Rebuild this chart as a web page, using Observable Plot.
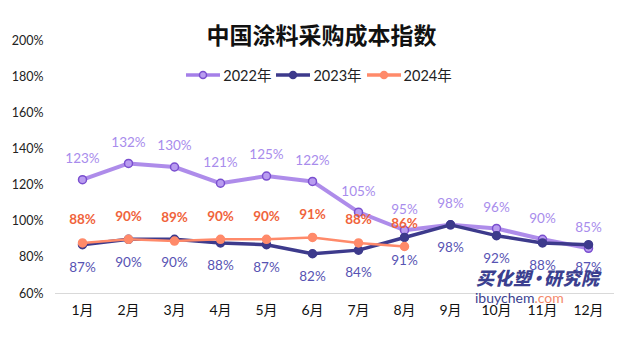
<!DOCTYPE html>
<html><head><meta charset="utf-8">
<script src="https://cdn.jsdelivr.net/npm/d3@7"></script>
<script src="https://cdn.jsdelivr.net/npm/@observablehq/plot@0.6"></script>
<style>
body{margin:0;background:#fff;}
#wrap{position:relative;width:629px;height:338px;overflow:hidden;font-family:Lato,"Noto Sans CJK SC",sans-serif;}
#title{position:absolute;left:7px;width:629px;top:18px;text-align:center;font:bold 23px "Noto Sans CJK SC",serif;color:#111;line-height:32px;}
#legend{position:absolute;left:4px;width:629px;top:64px;display:flex;justify-content:center;gap:4px;font:14.5px Lato,"Noto Sans CJK SC",sans-serif;color:#222;}
#legend .it{display:flex;align-items:center;gap:2px;}
#wm1{position:absolute;left:476px;top:265px;font:italic 900 18px "Noto Sans CJK SC",sans-serif;color:#3b3f8f;line-height:24px;letter-spacing:0.5px;}
#wm1 b{margin:0 -3px;}
#wm2{position:absolute;left:475px;top:289px;font:14px Lato,sans-serif;color:#3b3f8f;line-height:17px;}
#wm2 span{color:#f4896b;}
</style></head>
<body><div id="wrap"><div id="chart"></div>
<div id="title">中国涂料采购成本指数</div>
<div id="legend"></div>
<div id="wm1">买化塑<b>·</b>研究院</div>
<div id="wm2">ibuychem<span>.com</span></div>
</div>
<script>
const months = ["1月","2月","3月","4月","5月","6月","7月","8月","9月","10月","11月","12月"];
const years = ["2022年","2023年","2024年"];
const v2022 = [123,132,130,121,125,122,105,95,98,96,90,85];
const v2023 = [87,90,90,88,87,82,84,91,98,92,88,87];
const v2024 = [88,90,89,90,90,91,88,86];
const yTicks = [60,80,100,120,140,160,180,200];

const lineColor = {"2022年":"#a57fe8","2023年":"#3d3a8c","2024年":"#ff8a6a"};
const dotStroke = {"2022年":"#7a4fcf","2023年":"#3d3a8c","2024年":"#ff8a6a"};
const dotFill = {"2022年":"#b99cf0","2023年":"#3d3a8c","2024年":"#ff8a6a"};
const labelColor = {"2022年":"#a88cec","2023年":"#5753b3","2024年":"#f0643c"};

const rows = (vals, year) => vals.map((v,i)=>({month:months[i], value:v, year}));
const d22 = rows(v2022, years[0]), d23 = rows(v2023, years[1]), d24 = rows(v2024, years[2]);

function series(d, year, w, dy, bold){
  return [
    Plot.line(d,{x:"month",y:"value",stroke:lineColor[year],strokeWidth:w,strokeOpacity:year==="2022年"?0.9:1}),
    Plot.dot(d,{x:"month",y:"value",r:4,fill:dotFill[year],stroke:dotStroke[year],strokeWidth:1.5}),
    Plot.text(d,{x:"month",y:"value",text:d=>d.value+"%",dy:dy,fill:labelColor[year],fontSize:13.5,fontWeight:bold?"bold":"normal"})
  ];
}

const chart = Plot.plot({
  width:629, height:338,
  marginTop:40, marginBottom:45, marginLeft:55, marginRight:15,
  style:{fontFamily:'Lato,"Noto Sans CJK SC",sans-serif', background:"transparent"},
  x:{type:"point", domain:months, padding:0.5, label:null},
  y:{domain:[60,200], label:null},
  marks:[
    Plot.ruleY([60],{stroke:"#d9d9d9",strokeWidth:1}),
    Plot.axisY({ticks:yTicks, tickFormat:d=>d+"%", tickSize:0, tickPadding:12, fontSize:12.5, fill:"#222", label:null}),
    Plot.axisX({tickSize:0, tickPadding:12, fontSize:14, fill:"#111", label:null}),
    ...series(d22,"2022年",4,-21,false),
    ...series(d23,"2023年",3.5,23,false),
    ...series(d24,"2024年",2.5,-23,true)
  ]
});
document.getElementById("chart").appendChild(chart);

// legend
const leg = document.getElementById("legend");
years.forEach(y=>{
  const it = document.createElement("div"); it.className="it";
  const ns="http://www.w3.org/2000/svg";
  const s=document.createElementNS(ns,"svg"); s.setAttribute("width",36); s.setAttribute("height",12);
  const l=document.createElementNS(ns,"line"); l.setAttribute("x1",1);l.setAttribute("x2",35);l.setAttribute("y1",6);l.setAttribute("y2",6);
  l.setAttribute("stroke",lineColor[y]); l.setAttribute("stroke-width",3.5); s.appendChild(l);
  const c=document.createElementNS(ns,"circle"); c.setAttribute("cx",18);c.setAttribute("cy",6);c.setAttribute("r",3.5);
  c.setAttribute("fill",dotFill[y]); c.setAttribute("stroke",dotStroke[y]); c.setAttribute("stroke-width",1.5); s.appendChild(c);
  it.appendChild(s);
  const t=document.createElement("span"); t.textContent=y; it.appendChild(t);
  leg.appendChild(it);
});
</script></body></html>
